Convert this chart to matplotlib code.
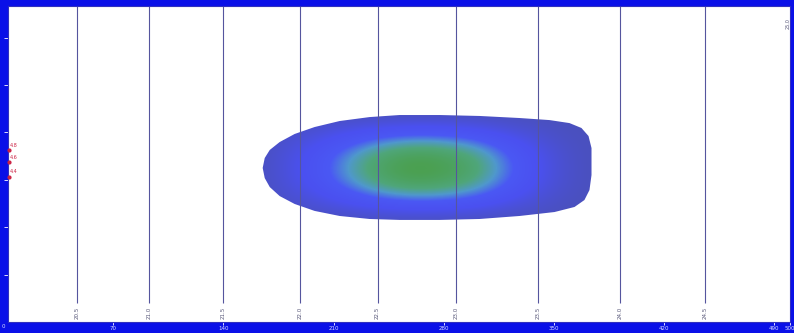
#!/usr/bin/env python3
"""Heat blob over vertical iso-lines, blue framed panel."""

import matplotlib

matplotlib.use("Agg")
import matplotlib.pyplot as plt
from matplotlib.colors import LinearSegmentedColormap
from matplotlib.patches import Polygon
import numpy as np

# bottom axis ticks
x_ticks = [70, 140, 210, 280, 350, 420, 490, 500]
y_ticks = [30, 60, 90, 120, 150, 180]

# vertical iso-lines and their labels
line_x = [47, 93, 140, 189, 238, 288, 340, 392, 446]
line_labels = ["20.5", "21.0", "21.5", "22.0", "22.5", "23.0", "23.5", "24.0", "24.5"]

# outline of the blob (data units), clockwise from the left tip
blob_x = [165.0, 166.3, 169.5, 175.8, 185.3, 198.0, 213.9, 232.9, 252.0, 277.4, 302.8,
          328.2, 347.2, 359.9, 367.5, 372.0, 373.9, 373.9, 372.6, 369.4, 363.1, 350.4,
          328.2, 302.8, 277.4, 252.0, 232.9, 213.9, 198.0, 185.3, 175.8, 169.5, 166.3]
blob_y = [97.5, 103.8, 108.9, 113.9, 119.0, 123.4, 127.2, 129.7, 131.0, 131.0, 130.4,
          129.1, 127.8, 125.9, 122.8, 117.7, 110.1, 93.0, 83.5, 77.2, 72.8, 69.6,
          67.1, 65.2, 64.6, 64.6, 65.2, 67.1, 70.3, 74.7, 79.7, 85.4, 91.1]

# intensity grid inside the blob, rows bottom -> top, cols left -> right
grid_x = [160, 180, 200, 220, 240, 260, 280, 300, 320, 340, 360, 380]
grid_y = [63, 71, 80, 89, 97.5, 106, 115, 124, 132]
intensity = [
    [0, 0, 0, 0, 0, 0, 0, 0, 0, 0, 0, 0],
    [0, .04, .09, .16, .22, .26, .25, .21, .12, .06, .01, 0],
    [0, .09, .22, .38, .54, .62, .60, .50, .32, .15, .03, 0],
    [0, .14, .33, .57, .80, .92, .88, .74, .47, .23, .05, 0],
    [0, .15, .36, .63, .88, 1.0, .96, .82, .52, .25, .05, 0],
    [0, .14, .33, .57, .80, .92, .88, .74, .47, .23, .05, 0],
    [0, .09, .22, .38, .54, .62, .60, .50, .32, .15, .03, 0],
    [0, .04, .09, .16, .22, .26, .25, .21, .12, .06, .01, 0],
    [0, 0, 0, 0, 0, 0, 0, 0, 0, 0, 0, 0],
]

marker_labels = ["4.8", "4.6", "4.4"]
marker_y = [112, 104, 95]

FRAME = "#0a10e8"

cmap = LinearSegmentedColormap.from_list(
    "blob",
    [(0.0, "#4b50bc"), (0.25, "#4a50f0"), (0.45, "#4a58f4"),
     (0.6, "#4f98cc"), (0.75, "#4fa67a"), (1.0, "#4a9f48")],
)

fig = plt.figure(figsize=(7.94, 3.33), dpi=100, facecolor=FRAME)
ax = fig.add_axes([8 / 794, 11 / 333, 782 / 794, 316 / 333])
ax.set_facecolor("white")
ax.set_xlim(3.2, 499.5)
ax.set_ylim(0, 200)

dx = (grid_x[1] - grid_x[0]) / 2
dy = (grid_y[1] - grid_y[0]) / 2
img = ax.imshow(np.array(intensity), cmap=cmap, vmin=0, vmax=1, origin="lower",
                extent=(grid_x[0] - dx, grid_x[-1] + dx, grid_y[0] - dy, grid_y[-1] + dy),
                interpolation="bicubic", aspect="auto", zorder=1)
outline = Polygon(np.column_stack([blob_x, blob_y]), closed=True, transform=ax.transData,
                  facecolor="none", edgecolor="none")
ax.add_patch(outline)
img.set_clip_path(outline)

ax.vlines(line_x, 12, 200, colors="#55559e", linewidth=0.8, zorder=2)
for x, lab in zip(line_x, line_labels):
    ax.text(x, 2, lab, rotation=90, fontsize=4, color="#555577",
            ha="center", va="bottom", zorder=3)

for y, lab in zip(marker_y, marker_labels):
    ax.plot(4, y - 3, marker="o", markersize=2, color="#cc2244", clip_on=False, zorder=4)
    ax.text(4, y, lab, fontsize=3.5, color="#cc2244", ha="left", va="center", zorder=4)

ax.text(498.5, 189, "25.0", rotation=90, fontsize=3.5, color="#555577", ha="center", va="center")

ax.set_xticks(x_ticks)
ax.set_xticklabels([str(t) for t in x_ticks], fontsize=4, color="#d8dcff")
ax.text(0, -1.5, "0", fontsize=4, color="#d8dcff", ha="center", va="top", clip_on=False)
ax.set_yticks(y_ticks)
ax.set_yticklabels([])
ax.tick_params(axis="x", length=2, width=0.6, color="white", pad=1)
ax.tick_params(axis="y", length=3, width=0.6, color="white", pad=1)
for side in ax.spines.values():
    side.set_color("#3030c0")
    side.set_linewidth(0.8)

fig.savefig("out.png", dpi=100, facecolor=FRAME)
plt.close(fig)
